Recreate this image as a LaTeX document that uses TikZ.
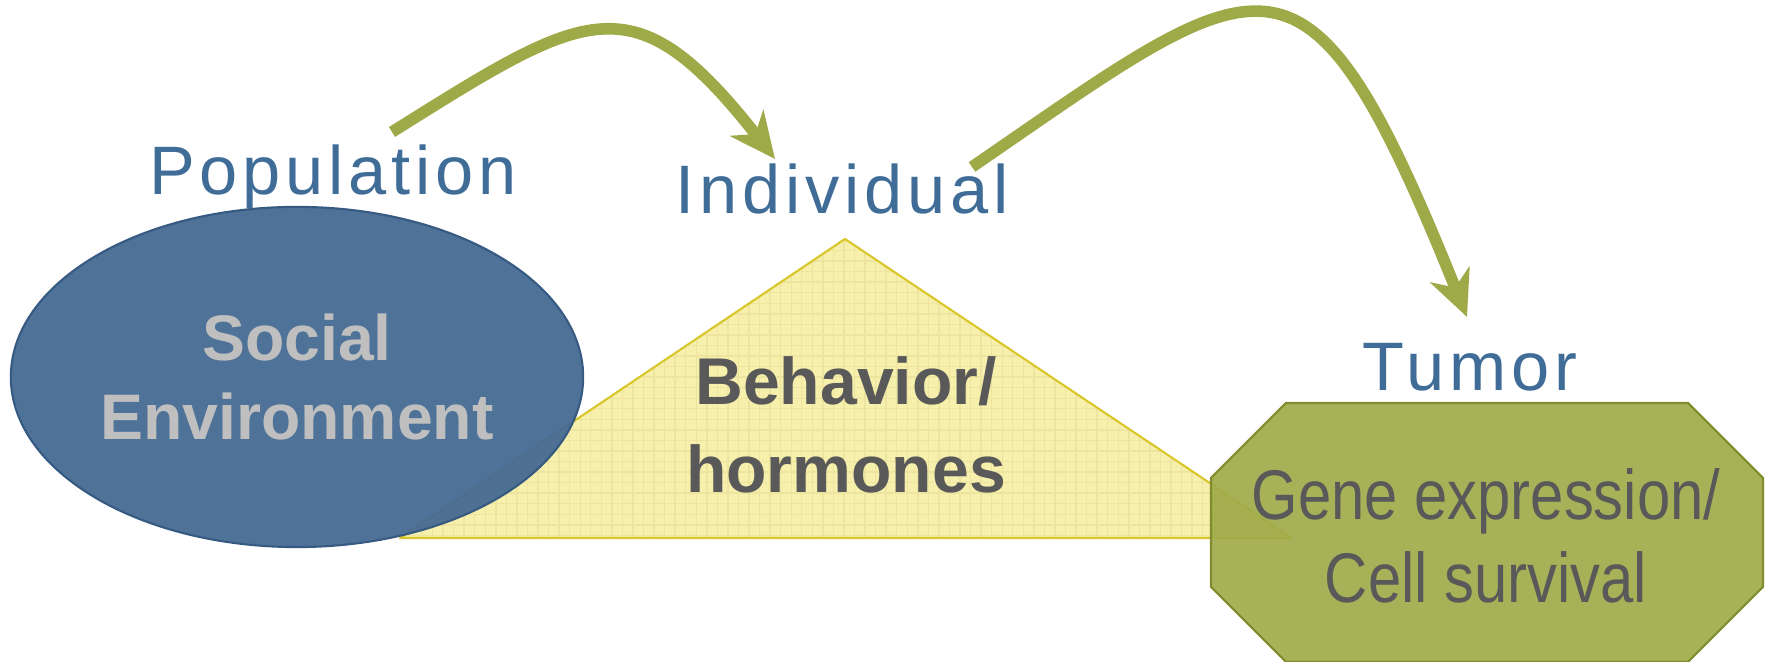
\documentclass[tikz,border=0pt]{standalone}
\usepackage{fontspec}
\setmainfont{Liberation Sans}
\newfontfamily\spacedfont[LetterSpace=7]{Liberation Sans}
\newfontfamily\narrowfont[FakeStretch=0.85]{Liberation Sans}
\usetikzlibrary{arrows.meta,shapes.geometric,patterns}
\definecolor{labelblue}{RGB}{63,109,152}
\definecolor{envblue}{RGB}{70,106,146}
\definecolor{envline}{RGB}{55,90,130}
\definecolor{envtext}{RGB}{191,191,191}
\definecolor{trifill}{RGB}{246,240,172}
\definecolor{triline}{RGB}{216,198,42}
\definecolor{tumfill}{RGB}{160,171,74}
\definecolor{tumline}{RGB}{128,140,45}
\definecolor{darktext}{RGB}{89,89,89}
\definecolor{arrowgreen}{RGB}{158,170,72}
\tikzset{
  level/.style={font=\spacedfont\fontsize{19.5}{22}\selectfont, text=labelblue, inner sep=0pt},
  hop/.style={draw=arrowgreen, line width=3.3pt, -{Stealth[length=13pt,width=12pt,inset=4pt]}},
}
\begin{document}
\begin{tikzpicture}[x=0.01cm, y=0.01cm]
  \useasboundingbox (0,0) rectangle (1765,-662);
  % Individual: triangle
  \coordinate (tl) at (400,-538);
  \coordinate (tt) at (845,-239);
  \coordinate (tr) at (1292,-538);
  \fill[trifill] (tl) -- (tt) -- (tr) -- cycle;
  \fill[pattern=grid, pattern color=triline!45] (tl) -- (tt) -- (tr) -- cycle;
  \draw[triline, line width=0.6pt, line join=round] (tl) -- (tt) -- (tr) -- cycle;
  \node[font=\bfseries\fontsize{18.8}{25}\selectfont, text=darktext, align=center] (behav) at (846,-425) {Behavior/\\hormones};
  % Population: ellipse
  \node[ellipse, draw=envline, fill=envblue, fill opacity=0.95, text opacity=1, line width=0.6pt,
        minimum width=5.72cm, minimum height=3.40cm, inner sep=0pt,
        font=\bfseries\fontsize{18.3}{22.5}\selectfont, text=envtext, align=center] (env) at (297,-377) {Social\\Environment};
  % Tumor: octagon
  \filldraw[fill=tumfill, draw=tumline, fill opacity=0.93, line width=0.6pt]
    (1286,-403) -- (1688,-403) -- (1763,-478) -- (1763,-587) -- (1688,-662)
    -- (1286,-662) -- (1211,-587) -- (1211,-478) -- cycle;
  \node[font=\narrowfont\fontsize{20}{23.6}\selectfont, text=darktext, align=center] (gene) at (1486,-536) {Gene expression/\\Cell survival};
  % level labels
  \node[level, anchor=base] (pop) at (333,-195) {Population};
  \node[level, anchor=base] (ind) at (842,-214) {Individual};
  \node[level, anchor=base west] (tum) at (1362,-391) {Tumor};
  % arrows between levels
  \coordinate (hop1s) at (392,-132);
  \coordinate (hop1e) at (775,-159);
  \coordinate (hop2s) at (972,-167);
  \coordinate (hop2e) at (1467,-317);
  \draw[hop] (hop1s) .. controls (587,-10) and (633,22) .. (hop1e);
  \draw[hop] (hop2s) .. controls (1270,38) and (1306,82) .. (hop2e);
\end{tikzpicture}
\end{document}
